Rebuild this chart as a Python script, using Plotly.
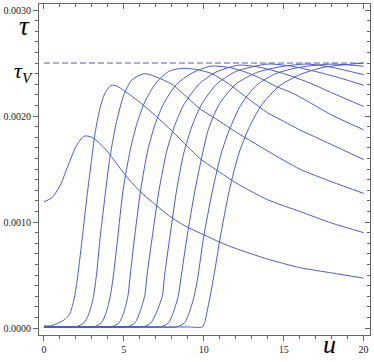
import plotly.graph_objects as go

# value of the dashed asymptote
tau_v = 0.00250

# one (u, tau) list per curve
u0 = [0, 0.5, 1, 1.5, 2, 2.5, 3, 3.5, 4, 5, 6, 7, 8, 9, 10, 11, 12, 14, 16, 18, 20]
t0 = [0.00119, 0.00123, 0.00134, 0.00153, 0.00171, 0.00181, 0.00180, 0.00174, 0.00166,
      0.00146, 0.00129, 0.00116, 0.00104, 0.00095, 0.00088, 0.00081, 0.00075, 0.00065,
      0.00057, 0.00052, 0.00047]

u1 = [0, 0.4, 0.8, 1.3, 1.6, 1.85, 2.05, 2.25, 2.45, 2.7, 2.95, 3.2, 3.5, 3.8, 4.2, 4.6,
      5, 6, 7, 8, 9, 9.75, 11, 12, 14, 16, 18, 20]
t1 = [0.00002, 0.00002, 0.00004, 0.00008, 0.00013, 0.00025, 0.00042, 0.00066, 0.00092,
      0.00125, 0.00155, 0.00184, 0.00207, 0.00221, 0.00229, 0.00228, 0.00224, 0.00213,
      0.00200, 0.00186, 0.00171, 0.00160, 0.00147, 0.00137, 0.00121, 0.00110, 0.00099,
      0.00090]

u2 = [0, 1, 2.0, 2.5, 2.8, 3.1, 3.3, 3.5, 3.8, 4.1, 4.5, 5.0, 5.5, 6.3, 7, 8, 9, 9.75,
      11, 12, 13, 14, 16, 18, 20]
t2 = [0.00001, 0.00001, 0.00001, 0.00005, 0.00013, 0.00030, 0.00052, 0.00083, 0.00122,
      0.00158, 0.00192, 0.00220, 0.00234, 0.00240, 0.00237, 0.00230, 0.00217, 0.00207,
      0.00195, 0.00185, 0.00176, 0.00167, 0.00150, 0.00138, 0.00127]

u3 = [0, 1, 2, 3.1, 3.6, 3.9, 4.15, 4.35, 4.6, 4.95, 5.4, 5.8, 6.3, 7, 7.8, 8.6, 9.5,
      10.5, 11.5, 12.9, 14, 15, 16, 17, 18, 20]
t3 = [0.00001, 0.00001, 0.00001, 0.00001, 0.00005, 0.00015, 0.00030, 0.00050, 0.00083,
      0.00130, 0.00168, 0.00192, 0.00213, 0.00231, 0.00242, 0.00245, 0.00244, 0.00240,
      0.00231, 0.00215, 0.00203, 0.00195, 0.00187, 0.00180, 0.00173, 0.00159]

u4 = [0, 1, 2, 3, 4.2, 4.7, 5.0, 5.25, 5.4, 5.65, 6.05, 6.5, 6.95, 7.5, 8.3, 9.2, 10.4,
      11.5, 12.5, 13.5, 14.5, 15.5, 16.6, 18, 20]
t4 = [0.00001, 0.00001, 0.00001, 0.00001, 0.00001, 0.00005, 0.00015, 0.00030, 0.00050,
      0.00083, 0.00130, 0.00168, 0.00192, 0.00212, 0.00230, 0.00240, 0.00247, 0.00246,
      0.00242, 0.00236, 0.00228, 0.00222, 0.00213, 0.00201, 0.00187]

u5 = [0, 1, 2, 3, 4, 5.2, 5.7, 6.0, 6.3, 6.45, 6.75, 7.2, 7.7, 8.2, 8.8, 9.7, 10.7, 12.2,
      13.5, 15, 16.5, 18, 20]
t5 = [0.00001, 0.00001, 0.00001, 0.00001, 0.00001, 0.00001, 0.00005, 0.00015, 0.00030,
      0.00050, 0.00083, 0.00130, 0.00168, 0.00192, 0.00212, 0.00230, 0.00241, 0.00248,
      0.00246, 0.00240, 0.00232, 0.00222, 0.00209]

u6 = [0, 1, 2, 3, 4, 5, 6.2, 6.7, 7.05, 7.4, 7.55, 7.85, 8.3, 8.75, 9.25, 9.9, 10.8, 12,
      14, 15.5, 17, 18.5, 20]
t6 = [0.00001, 0.00001, 0.00001, 0.00001, 0.00001, 0.00001, 0.00001, 0.00005, 0.00015,
      0.00030, 0.00050, 0.00083, 0.00130, 0.00165, 0.00190, 0.00212, 0.00230, 0.00242,
      0.00249, 0.00247, 0.00242, 0.00236, 0.00229]

u7 = [0, 1, 2, 3, 4, 5, 6, 7.3, 7.8, 8.1, 8.4, 8.6, 8.92, 9.45, 9.9, 10.3, 11, 12, 13.3,
      15, 16.5, 18, 20]
t7 = [0.00001, 0.00001, 0.00001, 0.00001, 0.00001, 0.00001, 0.00001, 0.00001, 0.00005,
      0.00015, 0.00030, 0.00050, 0.00083, 0.00130, 0.00163, 0.00188, 0.00212, 0.00230,
      0.00241, 0.00247, 0.00249, 0.00246, 0.00239]

u8 = [0, 1, 2, 3, 4, 5, 6, 7, 8.3, 8.8, 9.1, 9.4, 9.65, 9.96, 10.55, 11.1, 11.6, 12.3,
      13.3, 14.5, 16, 18, 20]
t8 = [0.00001, 0.00001, 0.00001, 0.00001, 0.00001, 0.00001, 0.00001, 0.00001, 0.00001,
      0.00005, 0.00015, 0.00030, 0.00050, 0.00083, 0.00130, 0.00165, 0.00187, 0.00210,
      0.00229, 0.00240, 0.00246, 0.00249, 0.00247]

u9 = [0, 1, 2, 3, 4, 5, 6, 7, 8, 9, 9.9, 10.05, 10.2, 10.4, 10.7, 11.0, 11.6, 12.2, 12.8,
      13.6, 14.7, 16, 17.5, 20]
t9 = [0.00001, 0.00001, 0.00001, 0.00001, 0.00001, 0.00001, 0.00001, 0.00001, 0.00001,
      0.00001, 0.00001, 0.00005, 0.00015, 0.00030, 0.00055, 0.00083, 0.00130, 0.00165,
      0.00188, 0.00210, 0.00228, 0.00239, 0.00246, 0.00250]

curves = [(u0, t0), (u1, t1), (u2, t2), (u3, t3), (u4, t4),
          (u5, t5), (u6, t6), (u7, t7), (u8, t8), (u9, t9)]

line_col = "#4a5ad2"
frame_col = "#666666"
serif = "Liberation Serif, Times New Roman, serif"

fig = go.Figure()
for u, t in curves:
    fig.add_trace(go.Scatter(x=u, y=t, mode="lines",
                             line=dict(color=line_col, width=1, shape="spline", smoothing=0.7),
                             showlegend=False, hoverinfo="skip"))

fig.add_trace(go.Scatter(x=[0, 20], y=[tau_v, tau_v], mode="lines",
                         line=dict(color=line_col, width=1, dash="6px,3px"),
                         showlegend=False, hoverinfo="skip"))

# empty trace so the mirrored tick axes get drawn
fig.add_trace(go.Scatter(x=[None], y=[None], xaxis="x2", yaxis="y2", showlegend=False,
                         hoverinfo="skip"))

xr = [-0.31, 20.4]
yr = [-0.000066, 0.003057]

common = dict(showgrid=False, zeroline=False, automargin=False, tickcolor=frame_col)

fig.update_layout(
    template="none",
    width=374, height=362,
    margin=dict(l=39, r=4, t=4, b=27),
    paper_bgcolor="white", plot_bgcolor="white",
    font=dict(family=serif, size=10, color="#222"),
    xaxis=dict(range=xr, showline=True, linecolor=frame_col, linewidth=1, mirror=True,
               ticks="outside", ticklen=5, tick0=0, dtick=5,
               minor=dict(ticks="outside", ticklen=3, dtick=1, tickcolor=frame_col), **common),
    yaxis=dict(range=yr, showline=True, linecolor=frame_col, linewidth=1, mirror=True,
               ticks="outside", ticklen=5, tick0=0, dtick=0.001, tickformat=".4f",
               minor=dict(ticks="outside", ticklen=3, dtick=0.0001, tickcolor=frame_col),
               **common),
    xaxis2=dict(range=xr, overlaying="x", side="top", anchor="y", showticklabels=False,
                ticks="inside", ticklen=5, tick0=0, dtick=5,
                minor=dict(ticks="inside", ticklen=3, dtick=1, tickcolor=frame_col), **common),
    yaxis2=dict(range=yr, overlaying="y", side="right", anchor="x", showticklabels=False,
                ticks="inside", ticklen=5, tick0=0, dtick=0.001,
                minor=dict(ticks="inside", ticklen=3, dtick=0.0001, tickcolor=frame_col),
                **common),
)

# axis symbols, placed in paper coords (data-ref annotations outside the range get hidden)
fig.add_annotation(x=-0.0423, y=0.934, xref="paper", yref="paper", text="<i>τ</i>",
                   xanchor="center", yanchor="middle", showarrow=False,
                   font=dict(family=serif, size=27, color="black"))
fig.add_annotation(x=-0.0483, y=0.7946, xref="paper", yref="paper", text="<i>τ<sub>V</sub></i>",
                   xanchor="center", yanchor="middle", showarrow=False,
                   font=dict(family=serif, size=22, color="black"))
fig.add_annotation(x=0.879, y=-0.0272, xref="paper", yref="paper", text="<i>u</i>",
                   xanchor="center", yanchor="middle", showarrow=False,
                   font=dict(family=serif, size=26, color="black"))

# drop the default 8px page margin so the figure sits at the window corner
fig.write_html("out.html", config={"displayModeBar": False},
               post_script="document.body.style.margin='0px';")
